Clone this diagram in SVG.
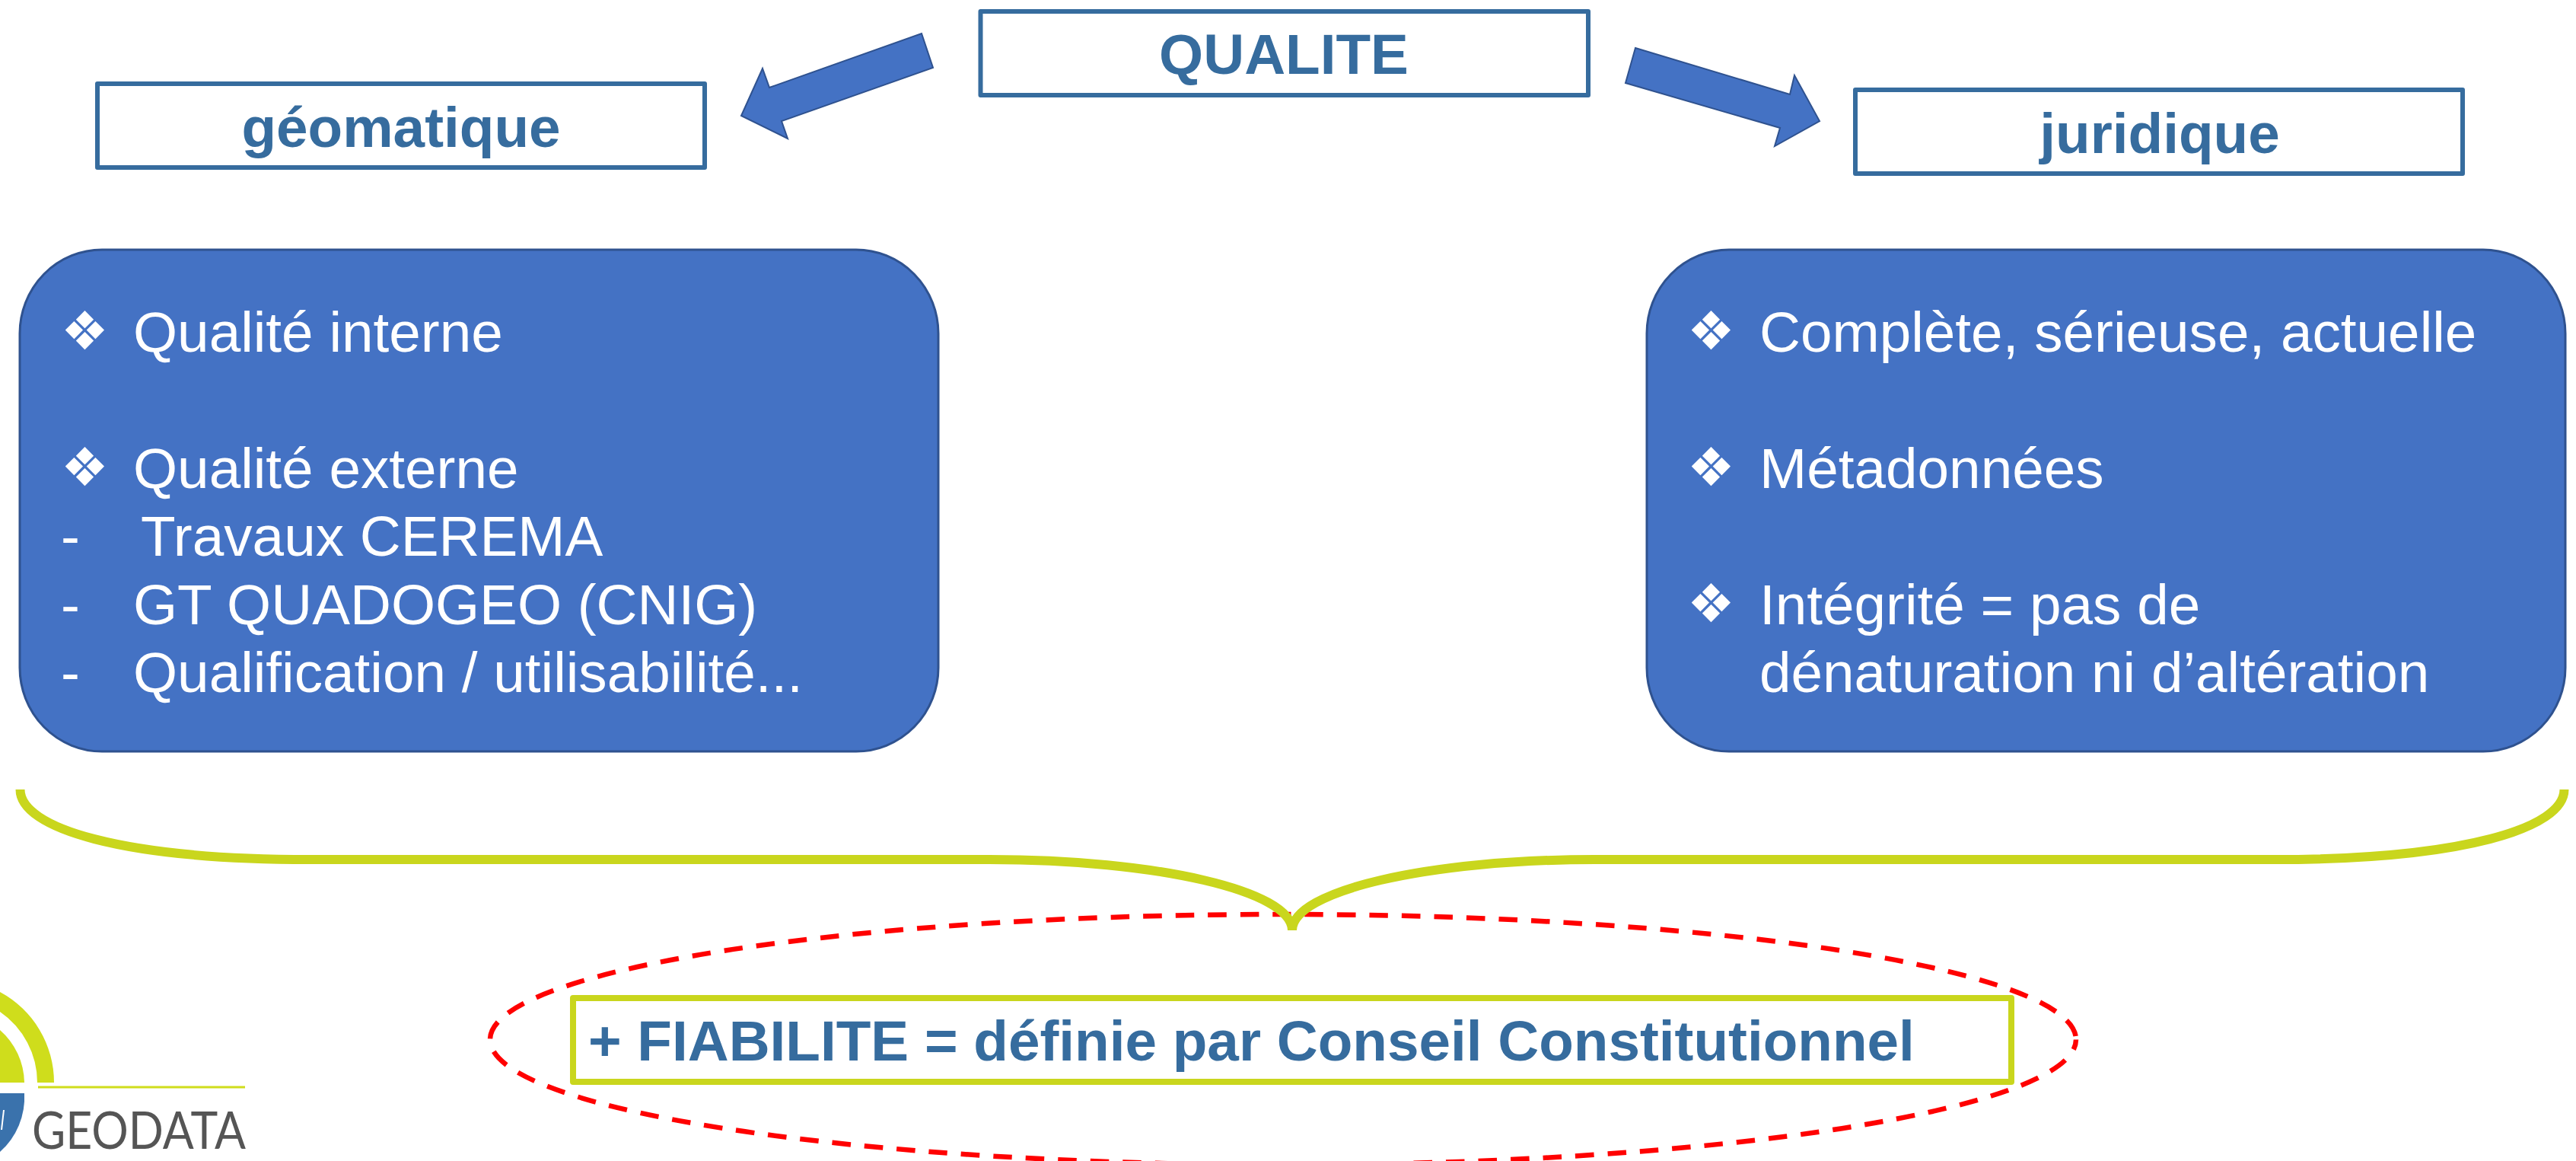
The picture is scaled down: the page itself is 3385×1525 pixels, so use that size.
<svg xmlns="http://www.w3.org/2000/svg" width="3385" height="1525" viewBox="0 0 3385 1525">
<style>
.t{font-family:"Liberation Sans",Arial,sans-serif;font-size:74.7px;font-weight:bold;fill:#366C9E}
.w{font-family:"Liberation Sans",Arial,sans-serif;font-size:74.7px;fill:#fff}
.b{font-family:"DejaVu Sans",sans-serif;font-size:70px;fill:#fff}
.hb{fill:#fff;stroke:#366C9E;stroke-width:6;stroke-linejoin:round}
.bb{fill:#4472C4;stroke:#2F528F;stroke-width:3}
.ar{fill:#4472C4;stroke:#2F528F;stroke-width:2}
</style>
<rect width="3385" height="1525" fill="#fff"/>
<g id="connectors">
<polygon class="ar" points="1211,44 1226,89 1027,159 1035,182 974,152 1002,90 1011,115"/>
<polygon class="ar" points="2149,63 2352,124 2358,99 2391,159 2332,192 2339,168 2136,109"/>
<ellipse cx="1686" cy="1365.500" rx="1042" ry="164.500" fill="none" stroke="#FF0000" stroke-width="6.5" stroke-dasharray="24.5 18" stroke-dashoffset="11"/>
<path d="M26.500 1037C26.500 1088 160 1129 408 1129L1300 1129C1520 1129 1698 1170 1698 1222C1698 1170 1876 1129 2096 1129L2988 1129C3236 1129 3369.500 1088 3369.500 1037" fill="none" stroke="#C9D61D" stroke-width="12"/>
</g>
<g id="qualite"><rect class="hb" x="1288.500" y="15" width="798.500" height="110"/><text class="t" x="1687" y="97" text-anchor="middle">QUALITE</text></g>
<g id="geomatique"><rect class="hb" x="128" y="110" width="798" height="110"/><text class="t" x="527" y="192.500" text-anchor="middle">géomatique</text></g>
<g id="juridique"><rect class="hb" x="2438" y="118" width="798" height="110"/><text class="t" x="2838" y="201" text-anchor="middle">juridique</text></g>
<g id="box-left"><rect class="bb" x="26" y="328" width="1207" height="659" rx="108" ry="110"/>
<text class="b" x="80" y="459">❖</text><text class="w" x="175" y="462">Qualité interne</text>
<text class="b" x="80" y="638">❖</text><text class="w" x="175" y="641">Qualité externe</text>
<text class="w" x="80" y="730">-</text><text class="w" x="185" y="730">Travaux CEREMA</text>
<text class="w" x="80" y="820">-</text><text class="w" x="175" y="820">GT QUADOGEO (CNIG)</text>
<text class="w" x="80" y="909">-</text><text class="w" x="175" y="909">Qualification / utilisabilité...</text>
</g>
<g id="box-right"><rect class="bb" x="2164" y="328" width="1207" height="659" rx="108" ry="110"/>
<text class="b" x="2217" y="459">❖</text><text class="w" x="2312" y="462">Complète, sérieuse, actuelle</text>
<text class="b" x="2217" y="638">❖</text><text class="w" x="2312" y="641">Métadonnées</text>
<text class="b" x="2217" y="817">❖</text><text class="w" x="2312" y="820">Intégrité = pas de</text>
<text class="w" x="2312" y="909">dénaturation ni d’altération</text>
</g>
<g id="fiabilite"><rect x="753" y="1311" width="1890" height="110" fill="#fff" stroke="#C9D61D" stroke-width="8" stroke-linejoin="round"/><text class="t" x="773" y="1393">+ FIABILITE = définie par Conseil Constitutionnel</text></g>
<g id="logo">
<path d="M0 1303A135 135 0 0 1 71 1422H49A113 113 0 0 0 0 1329Z" fill="#CFDD1C"/>
<path d="M0 1353A94 94 0 0 1 32 1422H0Z" fill="#CFDD1C"/>
<path d="M0 1436H32A96 96 0 0 1 0 1513Z" fill="#3A72AC"/>
<path d="M5 1458L2 1484" stroke="#fff" stroke-width="2" fill="none"/>
<path d="M50 1428H322" stroke="#CFDD1C" stroke-width="3"/>
<text x="42" y="1509" font-family="Lato,sans-serif" font-size="67" fill="#555" textLength="281" lengthAdjust="spacingAndGlyphs">GEODATA</text>
</g>
</svg>
